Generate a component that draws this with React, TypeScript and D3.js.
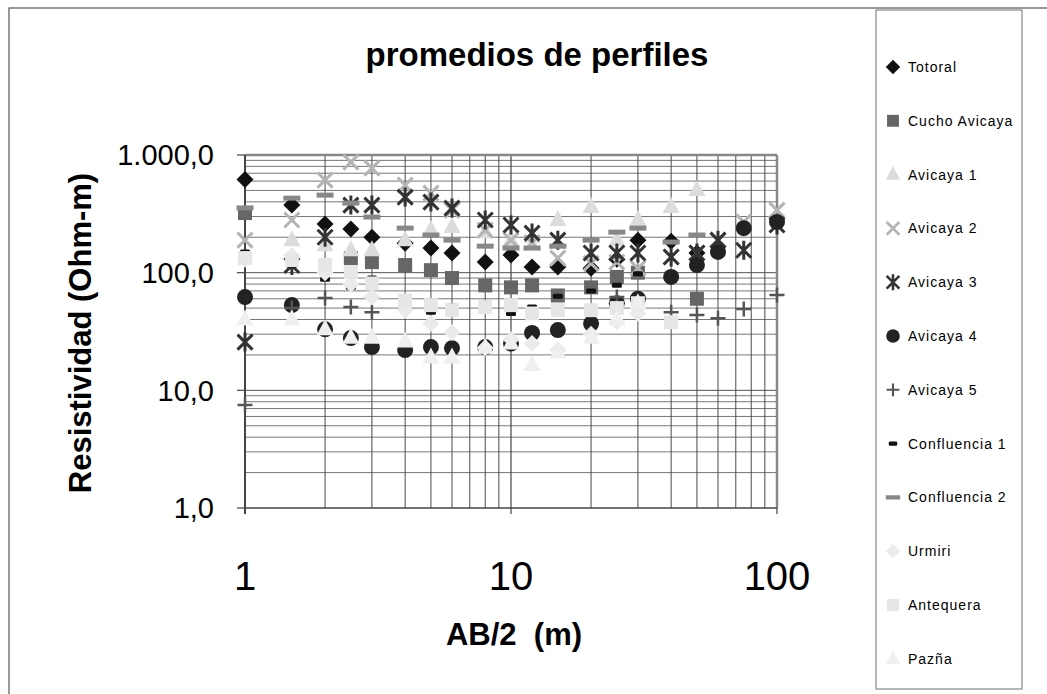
import React from 'react';
import * as d3 from 'd3';

// AB/2 positions (m)
const abHalf = [1, 1.5, 2, 2.5, 3, 4, 5, 6, 8, 10, 12, 15, 20, 25, 30, 40, 50, 60, 75, 100];

type V = number | null;
const totoral: V[] = [620, 375, 259, 235, 200, 178, 162, 147, 123, 141, 112, 112, 109, 130, 189, 185, 147, null, null, null];
const cuchoAvicaya: V[] = [321, null, null, 133, 123, 116, 105, 90, 78, 75, 78, 64, 75, 92, 100, null, 60, null, null, null];
const avicaya1: V[] = [null, 189, 171, 155, 155, 189, 230, 244, 221, 189, 200, 280, 361, 189, 280, 361, 505, null, null, null];
const avicaya2: V[] = [189, 280, 612, 870, 774, 555, 474, 340, 230, 189, 180, 133, 120, 123, 109, 136, 147, 189, 270, 340];
const avicaya3: V[] = [25.7, 115, 200, 375, 375, 439, 398, 354, 280, 254, 217, 189, 147, 147, 147, 136, 147, 189, 155, 254];
const avicaya4: V[] = [62, 53, 33, 27.8, 23.3, 22, 23.3, 22.8, 23.3, 25, 30.7, 32.5, 37, 55, 60, 92, 116, 150, 239, 270];
const avicaya5: V[] = [7.5, 50, 61, 51, 46, null, null, null, null, null, null, null, null, 62, null, 46, 43.6, 41, 49, 64.5];
const confluencia1: V[] = [150, 115, 88, 75, 90, 48, 46, 52, 55, 45, 51, 63, 70, 78, 98, null, null, null, null, null];
const confluencia2: V[] = [355, 430, 456, 390, 297, 239, 209, 189, 168, 162, 162, 168, 189, 221, 239, 182, 209, null, null, null];
const urmiri: V[] = [130, 140, 100, 80, 62, 48, 37, 31, 23, 27, 25, 22, 30, 38, 45, null, null, null, null, null];
const antequera: V[] = [133, 128, 116, 101, 81, 58, 53, 48, 51, 53, 45, 48, 48, 50, 55, 38, null, null, null, null];
const pazna: V[] = [40, 40, 33, 28, 28, 26, 19, 19, 23, 25, 16.4, 21, 28, 40, 55, null, null, null, null, null];

const yTickValues = [1, 10, 100, 1000];
const yTickLabels = ['1,0', '10,0', '100,0', '1.000,0'];
const xTickValues = [1, 10, 100];
const xTickLabels = ['1', '10', '100'];

type Shape = 'diamond' | 'square' | 'triangle' | 'x' | 'star' | 'circle' | 'plus' | 'dash' | 'wideDash';

const series: { name: string; values: V[]; shape: Shape; color: string }[] = [
  { name: 'Totoral', values: totoral, shape: 'diamond', color: '#111' },
  { name: 'Cucho Avicaya', values: cuchoAvicaya, shape: 'square', color: '#666' },
  { name: 'Avicaya 1', values: avicaya1, shape: 'triangle', color: '#dcdcdc' },
  { name: 'Avicaya 2', values: avicaya2, shape: 'x', color: '#b4b4b4' },
  { name: 'Avicaya 3', values: avicaya3, shape: 'star', color: '#333' },
  { name: 'Avicaya 4', values: avicaya4, shape: 'circle', color: '#222' },
  { name: 'Avicaya 5', values: avicaya5, shape: 'plus', color: '#555' },
  { name: 'Confluencia 1', values: confluencia1, shape: 'dash', color: '#111' },
  { name: 'Confluencia 2', values: confluencia2, shape: 'wideDash', color: '#888' },
  { name: 'Urmiri', values: urmiri, shape: 'diamond', color: '#ebebeb' },
  { name: 'Antequera', values: antequera, shape: 'square', color: '#e6e6e6' },
  { name: 'Pazña', values: pazna, shape: 'triangle', color: '#efefef' },
];

function Marker({ shape, color, x, y, s = 1 }: { shape: Shape; color: string; x: number; y: number; s?: number }) {
  const t = `translate(${x},${y}) scale(${s})`;
  switch (shape) {
    case 'diamond':
      return <path transform={t} d="M0,-8.5L8.5,0L0,8.5L-8.5,0Z" fill={color} />;
    case 'square':
      return <rect transform={t} x={-7} y={-7} width={14} height={14} fill={color} />;
    case 'triangle':
      return <path transform={t} d="M0,-10L8.5,6L-8.5,6Z" fill={color} />;
    case 'circle':
      return <circle transform={t} r={8} fill={color} />;
    case 'x':
      return <path transform={t} d="M-7.5,-7.5L7.5,7.5M7.5,-7.5L-7.5,7.5" stroke={color} strokeWidth={3} fill="none" />;
    case 'star':
      return <path transform={t} d="M-7.5,-7.5L7.5,7.5M7.5,-7.5L-7.5,7.5M0,-9.5V9.5" stroke={color} strokeWidth={3} fill="none" />;
    case 'plus':
      return <path transform={t} d="M-7.5,0H7.5M0,-7.5V7.5" stroke={color} strokeWidth={2.5} fill="none" />;
    case 'dash':
      return <rect transform={t} x={-5} y={-2.5} width={10} height={5} rx={1.5} fill={color} />;
    case 'wideDash':
      return <rect transform={t} x={-8.5} y={-2.5} width={17} height={5} fill={color} />;
  }
}

export default function App() {
  const W = 1047;
  const H = 694;
  const x = d3.scaleLog().domain([1, 100]).range([245, 777]);
  const y = d3.scaleLog().domain([1, 1000]).range([508, 155]);

  const hGrid: number[] = [];
  for (let d = 1; d < 1000; d *= 10) for (let k = 2; k <= 9; k++) hGrid.push(d * k);
  const vGrid: number[] = [];
  for (let d = 1; d < 100; d *= 10) for (let k = 2; k <= 9; k++) vGrid.push(d * k);

  const font = '"Liberation Sans", Arial, sans-serif';
  const legendY = d3.range(series.length).map((i) => 67 + i * 53.8);

  return (
    <div style={{ position: 'absolute', left: 0, top: 0 }}>
      <svg width={W} height={H} style={{ display: 'block', background: '#fff' }} fontFamily={font}>
        <rect x={9} y={8} width={W} height={H} fill="none" stroke="#555" strokeWidth={1.2} />

        {/* grid */}
        {hGrid.map((v) => (
          <line key={'h' + v} x1={x(1)} x2={x(100)} y1={y(v)} y2={y(v)} stroke="#777" strokeWidth={1} />
        ))}
        {[10, 100].map((v) => (
          <line key={'hm' + v} x1={x(1)} x2={x(100)} y1={y(v)} y2={y(v)} stroke="#555" strokeWidth={1} />
        ))}
        {vGrid.map((v) => (
          <line key={'v' + v} x1={x(v)} x2={x(v)} y1={y(1000)} y2={y(1)} stroke="#4a4a4a" strokeWidth={1} />
        ))}
        <line x1={x(10)} x2={x(10)} y1={y(1000)} y2={y(1)} stroke="#444" strokeWidth={1.2} />

        {/* plot frame */}
        <line x1={x(1)} x2={x(100)} y1={y(1000)} y2={y(1000)} stroke="#888" strokeWidth={2.5} />
        <line x1={x(100)} x2={x(100)} y1={y(1000)} y2={y(1)} stroke="#888" strokeWidth={2.5} />
        <line x1={x(1)} x2={x(100)} y1={y(1)} y2={y(1)} stroke="#444" strokeWidth={1.5} />
        <line x1={x(1)} x2={x(1)} y1={y(1000)} y2={y(1) + 6} stroke="#444" strokeWidth={2} />
        {yTickValues.map((v) => (
          <line key={'yt' + v} x1={x(1) - 8} x2={x(1)} y1={y(v)} y2={y(v)} stroke="#444" strokeWidth={1.2} />
        ))}
        {xTickValues.map((v) => (
          <line key={'xt' + v} x1={x(v)} x2={x(v)} y1={y(1)} y2={y(1) + 6} stroke="#444" strokeWidth={1.2} />
        ))}

        {/* markers */}
        {series.map((s) => (
          <g key={s.name}>
            {s.values.map((v, i) =>
              v == null ? null : <Marker key={i} shape={s.shape} color={s.color} x={x(abHalf[i])} y={y(v)} />
            )}
          </g>
        ))}

        {/* tick labels */}
        {yTickValues.map((v, i) => (
          <text key={'yl' + v} x={214} y={y(v)} dy="0.36em" textAnchor="end" fontSize={29} fill="#000">
            {yTickLabels[i]}
          </text>
        ))}
        {xTickValues.map((v, i) => (
          <text key={'xl' + v} x={x(v)} y={590} textAnchor="middle" fontSize={40} fill="#000">
            {xTickLabels[i]}
          </text>
        ))}

        {/* titles */}
        <text x={537} y={66} textAnchor="middle" fontSize={33} fontWeight="bold">
          promedios de perfiles
        </text>
        <text x={514} y={645} textAnchor="middle" fontSize={31} fontWeight="bold" style={{ whiteSpace: 'pre' }}>
          {'AB/2  (m)'}
        </text>
        <text
          transform={`translate(91,333) rotate(-90)`}
          textAnchor="middle"
          fontSize={31}
          fontWeight="bold"
        >
          Resistividad (Ohm-m)
        </text>

        {/* legend */}
        <rect x={876} y={10} width={146} height={679} fill="#fff" stroke="#888" strokeWidth={1.2} />
        {series.map((s, i) => (
          <g key={'lg' + s.name}>
            <Marker shape={s.shape} color={s.color} x={893} y={legendY[i]} s={0.85} />
            <text x={908} y={legendY[i] + 5} fontSize={14} letterSpacing={1} fill="#000">
              {s.name}
            </text>
          </g>
        ))}
      </svg>
    </div>
  );
}
